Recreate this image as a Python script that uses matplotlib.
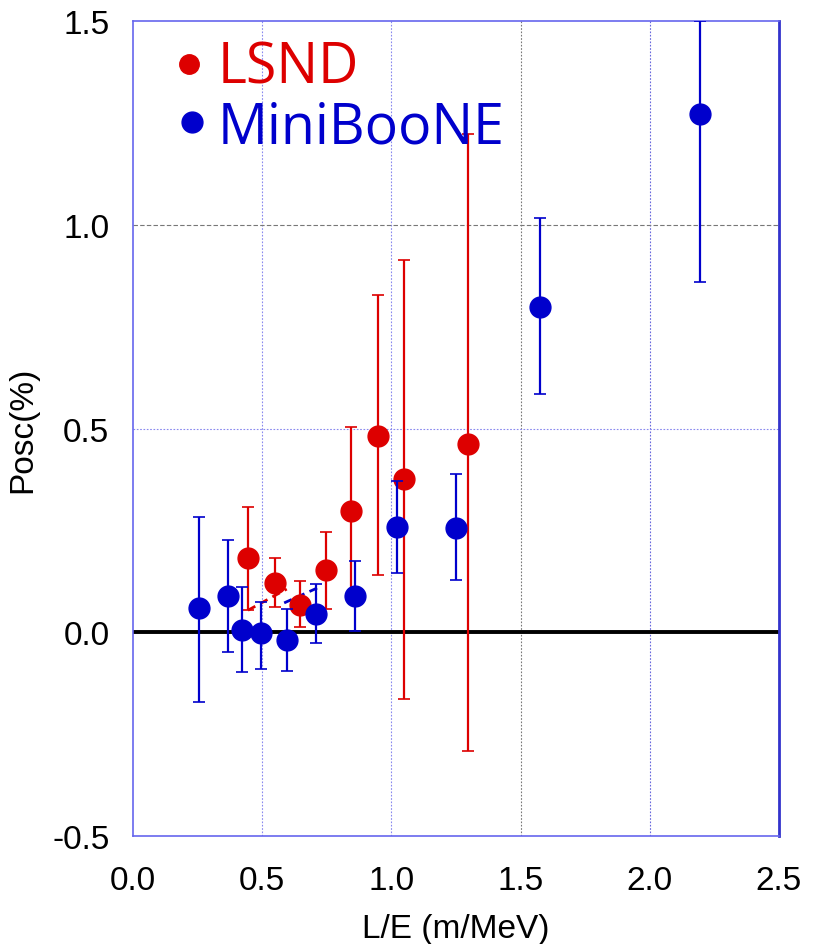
import matplotlib.pyplot as plt

# MiniBooNE points: L/E, Posc and error bar ends
mb_le = [0.255, 0.368, 0.420, 0.494, 0.595, 0.707, 0.858, 1.020, 1.249, 1.575, 2.194]
mb_p = [0.059, 0.088, 0.005, -0.002, -0.019, 0.046, 0.089, 0.258, 0.257, 0.798, 1.271]
mb_hi = [0.282, 0.226, 0.110, 0.074, 0.056, 0.118, 0.174, 0.370, 0.388, 1.016, 1.500]
mb_lo = [-0.172, -0.049, -0.098, -0.089, -0.095, -0.027, 0.002, 0.146, 0.128, 0.584, 0.859]

# LSND points
ls_le = [0.446, 0.550, 0.646, 0.746, 0.844, 0.947, 1.049, 1.295]
ls_p = [0.181, 0.122, 0.067, 0.152, 0.298, 0.482, 0.377, 0.461]
ls_hi = [0.308, 0.182, 0.126, 0.245, 0.504, 0.827, 0.914, 1.222]
ls_lo = [0.054, 0.062, 0.012, 0.058, 0.090, 0.140, -0.164, -0.292]

# short dashed fit segments
ls_fit_x = [0.445, 0.595]
ls_fit_y = [0.054, 0.106]
mb_fit_x = [0.585, 0.725]
mb_fit_y = [0.072, 0.112]

RED = '#dd0000'
BLUE = '#0000cc'
FONT = 'Liberation Sans'

fig = plt.figure(figsize=(8.15, 9.45), dpi=100)
ax = fig.add_axes([0.1632, 0.1143, 0.7926, 0.8624])

# grid lines
for gx, col in [(0.5, '#8888ee'), (1.0, '#8888ee'), (1.5, '#777777'), (2.0, '#6666dd')]:
    ax.axvline(gx, color=col, lw=0.8, ls=(0, (1.5, 1.5)), zorder=0)
ax.axhline(0.5, color='#8888ee', lw=0.8, ls=(0, (1.5, 1.5)), zorder=0)
ax.axhline(1.0, color='#777777', lw=0.8, ls=(0, (4, 2)), zorder=0)
ax.axhline(0.0, color='black', lw=2.8, zorder=1)

def err(p, hi, lo):
    return [[v - l for v, l in zip(p, lo)], [h - v for v, h in zip(p, hi)]]

ax.errorbar(ls_le, ls_p, yerr=err(ls_p, ls_hi, ls_lo), fmt='o', color=RED,
            ms=15, elinewidth=1.6, capsize=4, capthick=1.2, zorder=3)
ax.errorbar(mb_le, mb_p, yerr=err(mb_p, mb_hi, mb_lo), fmt='o', color=BLUE,
            ms=15, elinewidth=1.6, capsize=4, capthick=1.2, zorder=4)
ax.plot(ls_fit_x, ls_fit_y, color=RED, lw=2, ls=(0, (3, 2)), zorder=2)
ax.plot(mb_fit_x, mb_fit_y, color=BLUE, lw=2, ls=(0, (3, 2)), zorder=2)

ax.set_xlim(0, 2.5)
ax.set_ylim(-0.5, 1.5)
ax.set_xticks([0.0, 0.5, 1.0, 1.5, 2.0, 2.5])
ax.set_yticks([-0.5, 0.0, 0.5, 1.0, 1.5])
ax.set_xticklabels(['0.0', '0.5', '1.0', '1.5', '2.0', '2.5'], family=FONT)
ax.set_yticklabels(['-0.5', '0.0', '0.5', '1.0', '1.5'], family=FONT)
ax.tick_params(length=0, labelsize=24)
ax.tick_params(axis='x', pad=21)
ax.tick_params(axis='y', pad=17)

for side in ['left', 'bottom', 'top']:
    ax.spines[side].set_color('#6666ee')
    ax.spines[side].set_linewidth(1.2)
ax.spines['right'].set_color('#3333cc')
ax.spines['right'].set_linewidth(2)

ax.set_xlabel('L/E (m/MeV)', fontsize=24, family=FONT, labelpad=12)
ax.set_ylabel('Posc(%)', fontsize=24, family=FONT, labelpad=10)

# legend drawn by hand
ax.plot([0.0867], [0.947], 'o', color=RED, ms=14, transform=ax.transAxes, clip_on=False)
ax.plot([0.0913], [0.876], 'o', color=BLUE, ms=15, transform=ax.transAxes, clip_on=False)
ax.text(0.1316, 0.925, 'LSND', color=RED, fontsize=40, family='Open Sans',
        transform=ax.transAxes, va='baseline')
ax.text(0.1316, 0.8515, 'MiniBooNE', color=BLUE, fontsize=40, family='Open Sans',
        transform=ax.transAxes, va='baseline')

fig.savefig('out.png', dpi=100)
